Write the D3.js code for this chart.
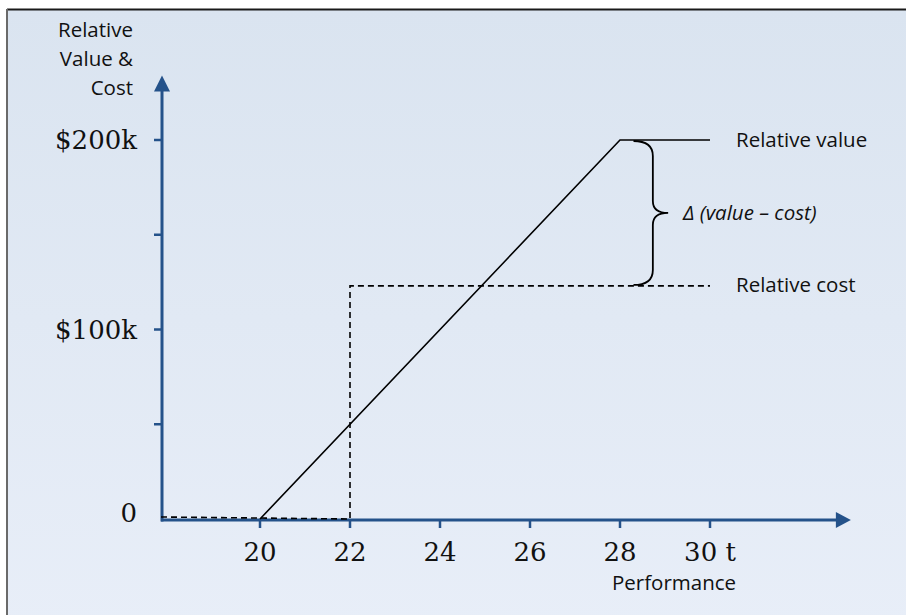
<!DOCTYPE html>
<html><head><meta charset="utf-8">
<script src="https://d3js.org/d3.v7.min.js"></script>
<style>body{margin:0;background:#fff}svg{display:block}</style>
</head><body>
<script>
// ---- data ----
const xTicks = [20, 22, 24, 26, 28, 30];
const xTickLabels = ["20", "22", "24", "26", "28", "30 t"];
const yTicks = [50000, 100000, 150000, 200000];
const yTickLabels = {100000: "$100k", 200000: "$200k"};
const valueT = [20, 28, 30];
const valueV = [0, 200000, 200000];
const costT = [17.8, 22, 22, 30];
const costV = [0, 0, 123000, 123000];
const axisXRange = [17.8, 33.13];
const axisYTop = 234000;

const W = 906, H = 615;
const svg = d3.select("body").append("svg").attr("width", W).attr("height", H);
const defs = svg.append("defs");
const g = defs.append("linearGradient").attr("id", "bg").attr("x1", 0).attr("y1", 0).attr("x2", 0).attr("y2", 1);
g.append("stop").attr("offset", 0).attr("stop-color", "#dae4f0");
g.append("stop").attr("offset", 1).attr("stop-color", "#e8eef8");

svg.append("rect").attr("x", 7).attr("y", 9).attr("width", 920).attr("height", 620).attr("fill", "url(#bg)");
svg.append("line").attr("x1", 7).attr("x2", 906).attr("y1", 9.5).attr("y2", 9.5).attr("stroke", "#1a1a1a").attr("stroke-width", 2);
svg.append("line").attr("x1", 7).attr("x2", 7).attr("y1", 9).attr("y2", 615).attr("stroke", "#6a6a6a").attr("stroke-width", 2);

const x = d3.scaleLinear().domain([20, 30]).range([260, 710]);
const y = d3.scaleLinear().domain([0, 200000]).range([519, 140]);
const axisColor = "#24528a";

// x axis
const x0 = x(axisXRange[0]), x1 = x(axisXRange[1]);
svg.append("line").attr("x1", x0).attr("x2", x1 - 12).attr("y1", y(0) + 1).attr("y2", y(0) + 1)
  .attr("stroke", axisColor).attr("stroke-width", 3);
svg.append("path").attr("d", `M${x1},${y(0)+1} L${x1-15},${y(0)-7} L${x1-15},${y(0)+9} Z`).attr("fill", axisColor);
svg.selectAll(".xt").data(xTicks).enter().append("line")
  .attr("x1", d => x(d)).attr("x2", d => x(d)).attr("y1", y(0) + 1).attr("y2", y(0) + 9)
  .attr("stroke", axisColor).attr("stroke-width", 2.5);
svg.selectAll(".xl").data(xTicks).enter().append("text")
  .attr("x", d => x(d)).attr("y", 561).attr("text-anchor", "middle")
  .attr("font-family", "DejaVu Serif").attr("font-size", 26).attr("fill", "#111")
  .text((d, i) => xTickLabels[i]);

// y axis
const yTopPx = y(axisYTop);
svg.append("line").attr("x1", x0 + 1).attr("x2", x0 + 1).attr("y1", y(0) + 2.5).attr("y2", yTopPx + 12)
  .attr("stroke", axisColor).attr("stroke-width", 3);
svg.append("path").attr("d", `M${x0+1},${yTopPx} L${x0-7},${yTopPx+16} L${x0+9},${yTopPx+16} Z`).attr("fill", axisColor);
svg.selectAll(".yt").data(yTicks).enter().append("line")
  .attr("x1", x0 - 7).attr("x2", x0).attr("y1", d => y(d)).attr("y2", d => y(d))
  .attr("stroke", axisColor).attr("stroke-width", 2.5);
svg.selectAll(".yl").data([0, 100000, 200000]).enter().append("text")
  .attr("x", 137).attr("y", d => d === 0 ? 522 : y(d) + 9).attr("text-anchor", "end")
  .attr("font-family", "DejaVu Serif").attr("font-size", 26).attr("fill", "#111")
  .text(d => d === 0 ? "0" : yTickLabels[d]);

// axis titles
const sans = "Open Sans";
["Relative", "Value &", "Cost"].forEach((t, i) => {
  svg.append("text").attr("x", 133).attr("y", 37 + i * 29).attr("text-anchor", "end")
    .attr("font-family", sans).attr("font-size", 20.5).attr("fill", "#111").text(t);
});
svg.append("text").attr("x", 674).attr("y", 590).attr("text-anchor", "middle")
  .attr("font-family", sans).attr("font-size", 20.5).attr("fill", "#111").text("Performance");

// lines
const line = d3.line().x(d => x(d[0])).y(d => y(d[1]));
svg.append("path").attr("d", line(valueT.map((t, i) => [t, valueV[i]])))
  .attr("fill", "none").attr("stroke", "#000").attr("stroke-width", 1.6);
svg.append("path").attr("d", line(costT.map((t, i) => [t, costV[i]])).replace(/^M([\d.]+),([\d.]+)/, (m, a, b) => `M${a},${+b - 2}`))
  .attr("fill", "none").attr("stroke", "#000").attr("stroke-width", 1.6).attr("stroke-dasharray", "6,4");

// brace
const bx = x(28.3), bv = x(28.73), bt = x(29.07);
const yA = y(200000) + 1, yB = y(costV[3]) - 1, yM = (yA + yB) / 2;
svg.append("path")
  .attr("d", `M${bx},${yA} Q${bv},${yA} ${bv},${yA+15} L${bv},${yM-12} Q${bv},${yM} ${bt},${yM} Q${bv},${yM} ${bv},${yM+12} L${bv},${yB-15} Q${bv},${yB} ${bx},${yB}`)
  .attr("fill", "none").attr("stroke", "#000").attr("stroke-width", 1.8);

// annotations
svg.append("text").attr("x", 736).attr("y", y(200000) + 7).attr("font-family", sans).attr("font-size", 20.5).attr("fill", "#111").text("Relative value");
svg.append("text").attr("x", 736).attr("y", y(costV[3]) + 6).attr("font-family", sans).attr("font-size", 20.5).attr("fill", "#111").text("Relative cost");
svg.append("text").attr("x", 683).attr("y", yM + 7).attr("font-family", sans).attr("font-style", "italic").attr("font-size", 20.5).attr("fill", "#111").text("Δ (value – cost)");
</script>
</body></html>
